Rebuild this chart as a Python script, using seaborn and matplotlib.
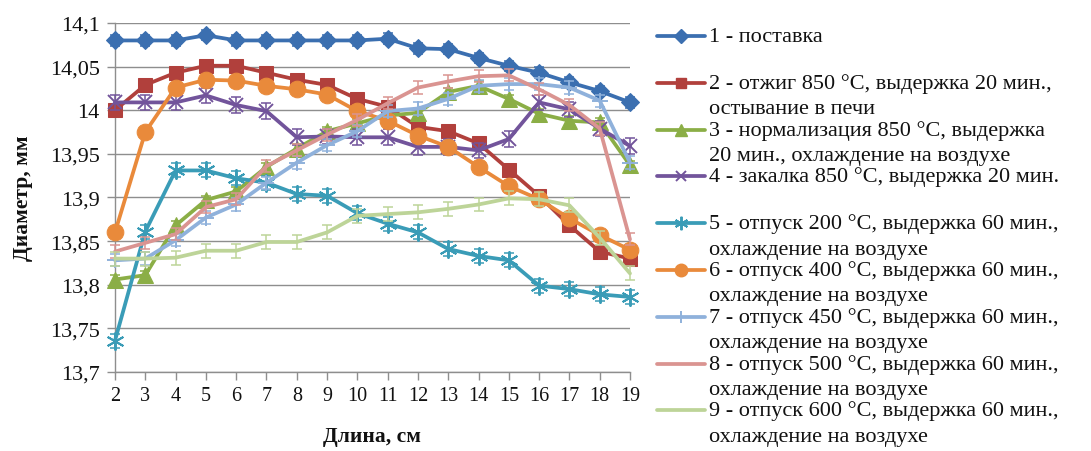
import matplotlib
matplotlib.use("Agg")
import matplotlib.pyplot as plt
import pandas as pd
import seaborn as sns
from matplotlib.lines import Line2D
from matplotlib.ticker import FuncFormatter, MultipleLocator

# Length along the sample, cm
length_cm = list(range(2, 20))

# Measured diameter, mm, for each heat-treatment mode
d_supply = [14.080, 14.080, 14.080, 14.086, 14.080, 14.080, 14.080, 14.080, 14.080,
            14.082, 14.071, 14.070, 14.060, 14.051, 14.043, 14.032, 14.022, 14.009]
d_anneal = [14.000, 14.029, 14.043, 14.051, 14.051, 14.043, 14.035, 14.029, 14.013,
            14.004, 13.981, 13.976, 13.962, 13.932, 13.902, 13.868, 13.838, 13.830]
d_normal = [13.806, 13.811, 13.868, 13.897, 13.907, 13.935, 13.956, 13.976, 13.985,
            13.994, 13.997, 14.021, 14.028, 14.013, 13.996, 13.988, 13.986, 13.937]
d_quench = [14.009, 14.009, 14.009, 14.017, 14.006, 13.999, 13.969, 13.970, 13.969,
            13.969, 13.958, 13.958, 13.954, 13.967, 14.009, 14.001, 13.979, 13.959]
d_temp200 = [13.736, 13.861, 13.931, 13.931, 13.922, 13.917, 13.904, 13.902, 13.882,
             13.870, 13.860, 13.841, 13.833, 13.828, 13.799, 13.795, 13.789, 13.786]
d_temp400 = [13.860, 13.975, 14.026, 14.035, 14.034, 14.028, 14.024, 14.018, 13.999,
             13.988, 13.971, 13.958, 13.935, 13.913, 13.898, 13.876, 13.857, 13.840]
d_temp450 = [13.828, 13.830, 13.851, 13.877, 13.892, 13.917, 13.940, 13.960, 13.976,
             13.999, 14.002, 14.013, 14.028, 14.030, 14.030, 14.026, 14.011, 13.940]
d_temp500 = [13.838, 13.848, 13.858, 13.889, 13.898, 13.936, 13.954, 13.972, 13.989,
             14.008, 14.026, 14.033, 14.039, 14.040, 14.024, 14.006, 13.979, 13.852]
d_temp600 = [13.830, 13.830, 13.831, 13.839, 13.839, 13.849, 13.849, 13.860, 13.879,
             13.881, 13.883, 13.887, 13.892, 13.899, 13.898, 13.891, 13.854, 13.813]

# Half-width of the measurement spread, mm
spread = [0.006, 0.005, 0.005, 0.009, 0.008, 0.004, 0.007, 0.007, 0.008]

series_labels = [
    ("1 - поставка", ""),
    ("2 - отжиг 850 °С, выдержка 20 мин.,", "остывание в печи"),
    ("3 - нормализация 850 °С, выдержка", "20 мин., охлаждение на воздухе"),
    ("4 - закалка 850 °С, выдержка 20 мин.", ""),
    ("5 - отпуск 200 °С, выдержка 60 мин.,", "охлаждение на воздухе"),
    ("6 - отпуск 400 °С, выдержка 60 мин.,", "охлаждение на воздухе"),
    ("7 - отпуск 450 °С, выдержка 60 мин.,", "охлаждение на воздухе"),
    ("8 - отпуск 500 °С, выдержка 60 мин.,", "охлаждение на воздухе"),
    ("9 - отпуск 600 °С, выдержка 60 мин.,", "охлаждение на воздухе"),
]
y_ticks = [13.7, 13.75, 13.8, 13.85, 13.9, 13.95, 14.0, 14.05, 14.1]

all_series = [d_supply, d_anneal, d_normal, d_quench, d_temp200,
              d_temp400, d_temp450, d_temp500, d_temp600]

colors = ["#3B6FB0", "#B1403C", "#8BAE46", "#72549B", "#3A9CB7",
          "#E98A3B", "#8FB1DB", "#DA9491", "#BDD498"]
styles = [
    dict(marker="D", markersize=9.5),
    dict(marker="s", markersize=10.5),
    dict(marker="^", markersize=11),
    dict(marker="x", markersize=10.5, markeredgewidth=1.4),
    dict(marker=(6, 2, 0), markersize=13, markeredgewidth=1.4),
    dict(marker="o", markersize=12),
    dict(marker="+", markersize=11, markeredgewidth=1.4),
    dict(marker=None),
    dict(marker=None),
]

sns.set_theme(style="white")
plt.rcParams["font.family"] = ["Liberation Serif", "DejaVu Serif"]

W, H = 1091, 452
fig = plt.figure(figsize=(W / 100, H / 100), dpi=100)
ax = fig.add_axes([115 / W, 1 - 373 / H, 515 / W, 349 / H])

for i, (vals, col, st, err) in enumerate(zip(all_series, colors, styles, spread)):
    df = pd.DataFrame({"length": length_cm, "diam": vals})
    z = 3 + i
    ax.errorbar(length_cm, vals, yerr=err, fmt="none", ecolor=col,
                elinewidth=1.1, capsize=3.5, capthick=1.1, zorder=z, clip_on=False)
    kw = dict(st)
    if kw.get("marker") is None:
        kw.pop("marker")
    sns.lineplot(data=df, x="length", y="diam", ax=ax, color=col, linewidth=2.7,
                 markeredgecolor=col, markerfacecolor=col, zorder=z + 0.5,
                 legend=False, clip_on=False, **kw)

ax.set_xlim(2, 19)
ax.set_ylim(13.7, 14.1)
ax.xaxis.set_major_locator(MultipleLocator(1))
ax.set_yticks(y_ticks)
ax.yaxis.set_major_formatter(
    FuncFormatter(lambda v, p: f"{round(v, 2):g}".replace(".", ",")))

ax.grid(False)
ax.yaxis.grid(True, color="#8E8E8E", linewidth=1.0)
ax.set_axisbelow(True)
for side in ("top", "right"):
    ax.spines[side].set_visible(False)
for side in ("left", "bottom"):
    ax.spines[side].set_color("#8E8E8E")
    ax.spines[side].set_linewidth(1.0)

ax.tick_params(axis="both", which="major", direction="out", length=6, width=1,
               color="#8E8E8E", bottom=True, left=True, labelcolor="#111111")
ax.tick_params(axis="y", labelsize=16, pad=5)
ax.tick_params(axis="x", labelsize=14.5, pad=4)

ax.set_xlabel("Длина, см", fontsize=15.5, fontweight="bold", color="#111111")
ax.set_ylabel("Диаметр, мм", fontsize=15.5, fontweight="bold", color="#111111")
ax.xaxis.set_label_coords(0.5, -0.155)
ax.yaxis.set_label_coords(-0.16, 0.5)

# Legend block on the right
y0, step = 37, 46.8
for i, ((line1, line2), col, st) in enumerate(zip(series_labels, colors, styles)):
    yc = 1 - (y0 + i * step) / H
    kw = dict(st)
    if kw.get("marker") is not None:
        kw["markersize"] = kw["markersize"] * 0.75
        kw["markevery"] = [1]
    else:
        kw.pop("marker")
    handle = Line2D([657 / W, 681 / W, 705 / W], [yc, yc, yc], color=col,
                    linewidth=2.7, markeredgecolor=col, markerfacecolor=col,
                    transform=fig.transFigure, **kw)
    fig.add_artist(handle)
    fig.text(709 / W, yc, line1, fontsize=16, va="center", ha="left", color="#111111")
    if line2:
        fig.text(709 / W, yc - 26 / H, line2, fontsize=16, va="center", ha="left",
                 color="#111111")

fig.savefig("out.png", dpi=100, facecolor="white")
